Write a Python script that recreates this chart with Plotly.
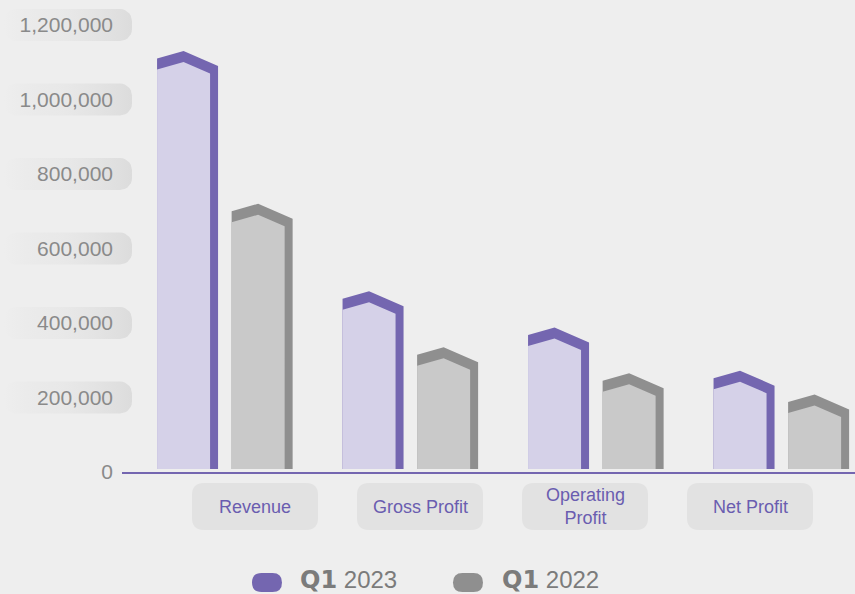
import numpy as np
import plotly.graph_objects as go

# ---------------- data ----------------
categories = ["Revenue", "Gross Profit", "Operating Profit", "Net Profit"]
category_labels = ["Revenue", "Gross Profit", "Operating<br>Profit", "Net Profit"]
series_names = ["Q1 2023", "Q1 2022"]
q1_2023 = [1110000, 465000, 368000, 252000]
q1_2022 = [700000, 315000, 245000, 188000]
y_ticks = [0, 200000, 400000, 600000, 800000, 1000000, 1200000]

# ---------------- layout constants (pixels) ----------------
W, H = 855, 594
BG = "#eeeeee"
FONT = "Liberation Sans, Arial, sans-serif"
PLOT_L = 122
Y0_PX = 472
YTOP_PX = 25
YMAX = 1200000
X_RANGE = [-0.551, 3.4006]

PXY = YMAX / (Y0_PX - YTOP_PX)                 # y data units per pixel
PXX = (X_RANGE[1] - X_RANGE[0]) / (W - PLOT_L)  # x data units per pixel

styles = {
    "Q1 2023": dict(light="#d5d1e8", dark="#7466b0", offset=-0.362),
    "Q1 2022": dict(light="#c9c9c9", dark="#8f8f8f", offset=0.040),
}
values = {"Q1 2023": q1_2023, "Q1 2022": q1_2022}

BAR_W = 61 * PXX
STRIP_W = 8 * PXX
ROOF = 7.5 * PXY
BAND = 11 * PXY
BASE = 3 * PXY

fig = go.Figure()

# ---------- gradient boxes behind y tick labels (subplot x/y) ----------
def rounded_box(x0, x1, yc, hh, r_px):
    ry = r_px * PXY
    pts = []
    corners = [(x1 - r_px, yc + hh - ry, 0, 90), (x0 + r_px, yc + hh - ry, 90, 180),
               (x0 + r_px, yc - hh + ry, 180, 270), (x1 - r_px, yc - hh + ry, 270, 360)]
    for cx, cy, a0, a1 in corners:
        for a in np.linspace(np.radians(a0), np.radians(a1), 8):
            pts.append((cx + r_px * np.cos(a), cy + ry * np.sin(a)))
    pts.append(pts[0])
    return [p[0] for p in pts], [p[1] for p in pts]

for t in y_ticks[1:]:
    bx, by = rounded_box(4, 132, t, 16 * PXY, 12)
    fig.add_trace(go.Scatter(
        x=bx, y=by, xaxis="x", yaxis="y", mode="lines", fill="toself",
        line=dict(width=0, color="rgba(0,0,0,0)"),
        fillgradient=dict(type="horizontal",
                          colorscale=[[0, "rgba(222,222,222,0)"], [0.45, "rgba(228,228,228,0.55)"],
                                      [1, "rgba(220,220,220,1)"]]),
        hoverinfo="skip", showlegend=False))

# ---------- house-shaped bars (subplot x2/y2) ----------
for name in series_names:
    st = styles[name]
    ox, oy, ix, iy = [], [], [], []
    for i, v in enumerate(values[name]):
        xl = i + st["offset"]
        xr = xl + BAR_W
        xs = xr - STRIP_W
        xp = (xl + xs) / 2
        y_peak = v + ROOF
        y_right = v - ROOF
        ox += [xl, xl, xp, xr, xr, xl, None]
        oy += [BASE, v, y_peak, y_right, BASE, BASE, None]
        slope = (y_peak - y_right) / (xr - xp)
        inner_right = y_peak - slope * (xs - xp) - BAND
        ix += [xl, xl, xp, xs, xs, xl, None]
        iy += [BASE, v - BAND, y_peak - BAND, inner_right, BASE, BASE, None]
    fig.add_trace(go.Scatter(x=ox, y=oy, xaxis="x2", yaxis="y2", mode="lines", fill="toself",
                             fillcolor=st["dark"], line=dict(width=0, color=st["dark"]),
                             name=name, hoverinfo="skip", showlegend=False))
    fig.add_trace(go.Scatter(x=ix, y=iy, xaxis="x2", yaxis="y2", mode="lines", fill="toself",
                             fillcolor=st["light"], line=dict(width=0, color=st["light"]),
                             name=name, hoverinfo="skip", showlegend=False))

# ---------- helpers in pixel -> paper ----------
def px(x):
    return x / W

def py(y):
    return 1 - y / H

def rrect_path(x0, y0, x1, y1, r):
    P = lambda x, y: f"{px(x):.5f},{py(y):.5f}"
    return (f"M{P(x0 + r, y0)} L{P(x1 - r, y0)} Q{P(x1, y0)} {P(x1, y0 + r)} "
            f"L{P(x1, y1 - r)} Q{P(x1, y1)} {P(x1 - r, y1)} L{P(x0 + r, y1)} "
            f"Q{P(x0, y1)} {P(x0, y1 - r)} L{P(x0, y0 + r)} Q{P(x0, y0)} {P(x0 + r, y0)} Z")

shapes = []
annotations = []

# category label boxes
LABEL_X0, LABEL_STEP, LABEL_W = 255, 165, 126
for i, lab in enumerate(category_labels):
    cx = LABEL_X0 + i * LABEL_STEP
    shapes.append(dict(type="path", xref="paper", yref="paper", layer="below",
                       path=rrect_path(cx - LABEL_W / 2, 483, cx + LABEL_W / 2, 530, 12),
                       fillcolor="#e2e2e2", line=dict(width=0)))
    annotations.append(dict(x=px(cx), y=py(507), xref="paper", yref="paper",
                            text=lab, showarrow=False, xanchor="center", yanchor="middle",
                            font=dict(family=FONT, size=18, color="#6a5db0")))

# custom legend
legend_pos = [(267, 298), (468, 500)]
for name, (pcx, tx) in zip(series_names, legend_pos):
    st = styles[name]
    shapes.append(dict(type="path", xref="paper", yref="paper", layer="above",
                       path=rrect_path(pcx - 15, 573, pcx + 15, 592, 9.5),
                       fillcolor=st["dark"], line=dict(width=0)))
    q, yr = name.split(" ")
    annotations.append(dict(x=px(tx), y=py(580), xref="paper", yref="paper",
                            text=f"<span style='font-family:DejaVu Sans'><b>{q}</b></span> {yr}",
                            showarrow=False, xanchor="left", yanchor="middle",
                            font=dict(family=FONT, size=24, color="#7b7b7b")))

fig.update_layout(
    width=W, height=H,
    margin=dict(l=0, r=0, t=0, b=0, pad=0, autoexpand=False),
    paper_bgcolor=BG, plot_bgcolor="rgba(0,0,0,0)",
    showlegend=False,
    font=dict(family=FONT),
    xaxis=dict(domain=[0, 137 / W], range=[0, 137], visible=False, fixedrange=True,
               automargin=False),
    yaxis=dict(domain=[(H - Y0_PX) / H, 1], range=[0, YMAX * Y0_PX / (Y0_PX - YTOP_PX)],
               visible=False, fixedrange=True, automargin=False),
    xaxis2=dict(domain=[PLOT_L / W, 1], range=X_RANGE, anchor="y2", automargin=False,
                showline=True, linecolor="#7466b0", linewidth=2,
                showticklabels=False, ticks="", showgrid=False, zeroline=False),
    yaxis2=dict(domain=[(H - Y0_PX) / H, (H - YTOP_PX) / H], range=[0, YMAX], anchor="x2",
                automargin=False,
                tickvals=y_ticks, tickformat=",", ticks="", ticklabelstandoff=8,
                tickfont=dict(family=FONT, size=21, color="#8a8a8a"),
                showgrid=False, zeroline=False, showline=False),
    shapes=shapes,
    annotations=annotations,
)

fig.write_html("out.html",
               config={"displayModeBar": False},
               post_script="document.body.style.margin='0px';document.body.style.background='#eeeeee';")
